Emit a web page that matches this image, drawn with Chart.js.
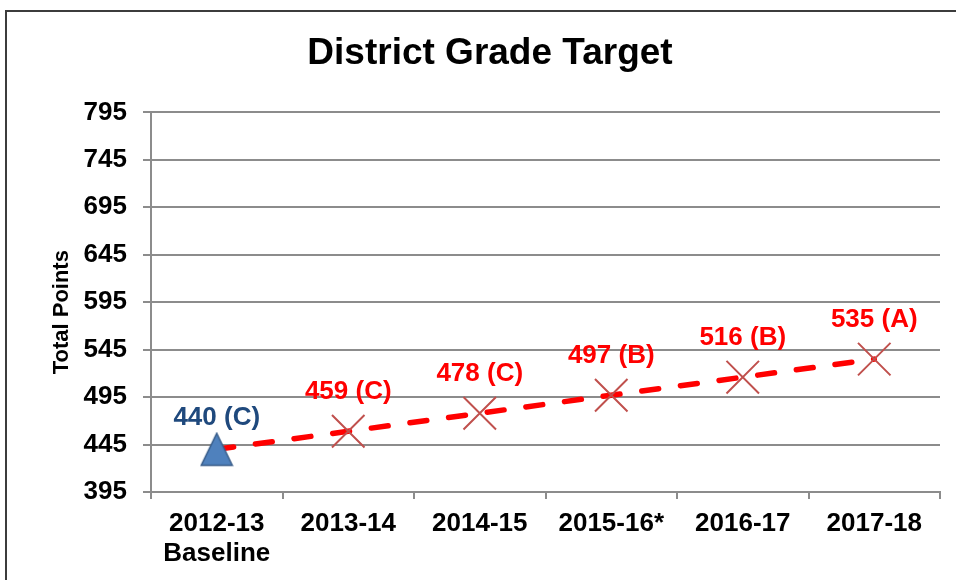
<!DOCTYPE html>
<html>
<head>
<meta charset="utf-8">
<script src="https://cdn.jsdelivr.net/npm/chart.js@4"></script>
<style>
  html, body { margin: 0; padding: 0; background: #fff; overflow: hidden; width: 956px; height: 580px; }
  #frame { position: absolute; left: 5px; top: 10px; width: 975px; height: 600px; border: 2px solid #3c3c3c; box-sizing: border-box; }
  #wrap { position: absolute; left: 0; top: 0; width: 956px; height: 580px; }
</style>
</head>
<body>
<div id="frame"></div>
<div id="wrap"><canvas id="c" width="956" height="580"></canvas></div>
<script>
// ---- data ----
const categories = [['2012-13', 'Baseline'], '2013-14', '2014-15', '2015-16*', '2016-17', '2017-18'];
const baselineValues = [440, null, null, null, null, null];
const targetValues = [440, 459, 478, 497, 516, 535];
const grades = ['C', 'C', 'C', 'B', 'B', 'A'];
const yMin = 395;
const yMax = 795;
const yStep = 50;
const chartTitle = 'District Grade Target';
const yTitle = 'Total Points';

const FONT = '"Liberation Sans", Arial, sans-serif';

// triangle marker image (Excel style, centred in its box)
function makeTriangle() {
  const w = 34, h = 35;
  const c = document.createElement('canvas');
  c.width = w; c.height = h;
  const g = c.getContext('2d');
  g.beginPath();
  g.moveTo(w / 2, 1.5);
  g.lineTo(w - 1.5, h - 1.5);
  g.lineTo(1.5, h - 1.5);
  g.closePath();
  g.fillStyle = '#4F81BD';
  g.fill();
  g.lineWidth = 1.5;
  g.strokeStyle = '#385D8A';
  g.stroke();
  return c;
}
const triangleImg = makeTriangle();

const labelPlugin = {
  id: 'valueLabels',
  afterDatasetsDraw(chart) {
    const ctx = chart.ctx;
    ctx.save();
    ctx.font = 'bold 26px ' + FONT;
    ctx.textAlign = 'center';
    ctx.textBaseline = 'alphabetic';
    chart.data.datasets.forEach((ds, di) => {
      const meta = chart.getDatasetMeta(di);
      ds.data.forEach((v, i) => {
        if (v === null) return;
        if (di === 1 && i === 0) return;
        const pt = meta.data[i];
        ctx.fillStyle = ds.labelColor;
        ctx.fillText(v + ' (' + grades[i] + ')', pt.x, pt.y - ds.labelOffset);
      });
    });
    ctx.restore();
  }
};

const yTitlePlugin = {
  id: 'yTitle',
  afterDraw(chart) {
    const ctx = chart.ctx;
    const a = chart.chartArea;
    ctx.save();
    ctx.font = 'bold 22px ' + FONT;
    ctx.fillStyle = '#000';
    ctx.textAlign = 'center';
    ctx.textBaseline = 'middle';
    ctx.translate(62, (a.top + a.bottom) / 2 + 10);
    ctx.rotate(-Math.PI / 2);
    ctx.fillText(yTitle, 0, 0);
    ctx.restore();
  }
};

new Chart(document.getElementById('c'), {
  type: 'line',
  data: {
    labels: categories,
    datasets: [
      {
        label: 'Baseline',
        data: baselineValues,
        showLine: false,
        pointStyle: triangleImg,
        pointRadius: 17,
        labelColor: '#1F497D',
        labelOffset: 24
      },
      {
        label: 'Target',
        data: targetValues,
        borderColor: '#FF0000',
        borderWidth: 5.5,
        borderDash: [17, 22],
        borderCapStyle: 'round',
        tension: 0,
        fill: false,
        pointStyle: 'crossRot',
        pointRadius: (c) => (c.dataIndex === 0 ? 0 : 23),
        pointBorderColor: '#C0504D',
        pointBorderWidth: 2,
        pointBackgroundColor: '#C0504D',
        labelColor: '#FF0000',
        labelOffset: 32
      }
    ]
  },
  options: {
    responsive: false,
    animation: false,
    events: [],
    layout: { autoPadding: false, padding: { left: 40, right: 16, top: 0, bottom: 0 } },
    plugins: {
      legend: { display: false },
      tooltip: { enabled: false },
      title: {
        display: true,
        text: chartTitle,
        color: '#000',
        font: { family: FONT, size: 37, weight: 'bold', lineHeight: 1.2 },
        padding: { top: 32, bottom: 36 }
      }
    },
    scales: {
      x: {
        offset: true,
        afterFit(s) { s.height = 88; s.paddingLeft = 0; s.paddingRight = 0; },
        grid: {
          offset: true,
          drawOnChartArea: false,
          drawTicks: true,
          tickLength: 7,
          color: '#8C8C8C',
          lineWidth: 2
        },
        border: { display: true, color: '#8C8C8C', width: 2 },
        ticks: {
          color: '#000',
          font: { family: FONT, size: 26, weight: 'bold', lineHeight: 1.18 },
          padding: 9,
          maxRotation: 0,
          autoSkip: false
        }
      },
      y: {
        min: yMin,
        max: yMax,
        afterFit(s) { s.width = 111; },
        grid: {
          drawOnChartArea: true,
          drawTicks: true,
          tickLength: 8,
          color: '#8C8C8C',
          lineWidth: 2
        },
        border: { display: true, color: '#8C8C8C', width: 2 },
        ticks: {
          stepSize: yStep,
          color: '#000',
          font: { family: FONT, size: 26, weight: 'bold' },
          padding: 16
        }
      }
    }
  },
  plugins: [labelPlugin, yTitlePlugin]
});
</script>
</body>
</html>
